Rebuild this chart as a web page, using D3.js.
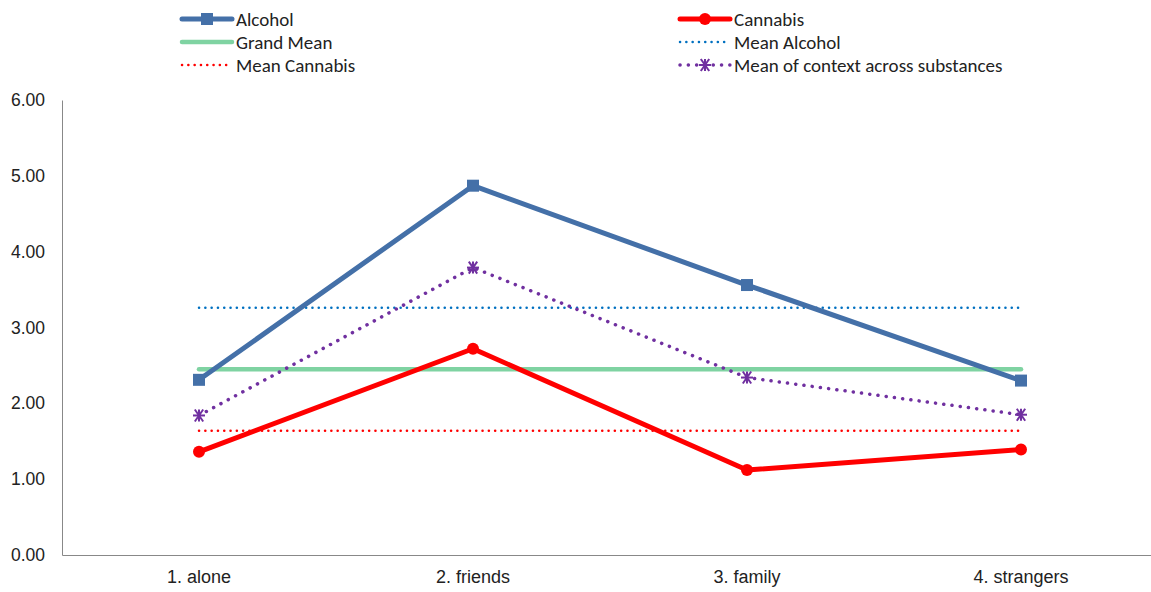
<!DOCTYPE html>
<html>
<head>
<meta charset="utf-8">
<script src="https://cdn.jsdelivr.net/npm/d3@7"></script>
<style>
  html, body { margin: 0; padding: 0; background: #fff; }
  svg { display: block; font-family: Calibri, Carlito, "Open Sans", "Liberation Sans", Arial, sans-serif; }
</style>
</head>
<body>
<svg id="chart" width="1151" height="592"></svg>
<script>
// Context categories
const contexts = ["1. alone", "2. friends", "3. family", "4. strangers"];
// Ratings per context
const alcohol = [2.31, 4.87, 3.56, 2.30];
const cannabis = [1.36, 2.72, 1.12, 1.39];
const contextMean = [1.84, 3.79, 2.34, 1.85];
// Reference levels
const grandMean = 2.45;
const meanAlcohol = 3.26;
const meanCannabis = 1.64;
// Y axis ticks
const yTicks = [0, 1, 2, 3, 4, 5, 6];

const svg = d3.select("#chart");
const plotLeft = 62, plotRight = 1158, plotTop = 100, plotBottom = 555;

const x = d3.scaleBand().domain(contexts).range([plotLeft, plotRight]);
const xc = d => x(d) + x.bandwidth() / 2;
const y = d3.scaleLinear().domain([0, 6]).range([plotBottom, plotTop]);

// Axes
const yAxis = svg.append("g").attr("transform", `translate(${plotLeft},0)`)
  .call(d3.axisLeft(y).tickValues(yTicks).tickFormat(d3.format(".2f")).tickSize(0).tickPadding(17));
yAxis.select(".domain").attr("stroke", "#888").attr("stroke-width", 1);
yAxis.selectAll("text").attr("font-size", 17.5).attr("fill", "#222");

const xAxis = svg.append("g").attr("transform", `translate(0,${plotBottom})`)
  .call(d3.axisBottom(x).tickSize(0).tickPadding(15));
xAxis.select(".domain").attr("stroke", "#888").attr("stroke-width", 1);
xAxis.selectAll("text").attr("font-size", 18).attr("fill", "#222");

const line = d3.line().x((d, i) => xc(contexts[i])).y(d => y(d));
const x0 = xc(contexts[0]), x1 = xc(contexts[contexts.length - 1]);

// Horizontal mean levels
function hline(v, color, width, dash) {
  svg.append("line").attr("x1", x0).attr("x2", x1).attr("y1", y(v)).attr("y2", y(v))
    .attr("stroke", color).attr("stroke-width", width)
    .attr("stroke-dasharray", dash || null).attr("stroke-linecap", "round");
}
hline(grandMean, "#7fd3a2", 4.5);
hline(meanAlcohol, "#0070c0", 2.5, "0.1 6.2");
hline(meanCannabis, "#ff0000", 2.5, "0.1 6.2");

// Context mean across substances
svg.append("path").datum(contextMean).attr("d", line)
  .attr("fill", "none").attr("stroke", "#7030a0").attr("stroke-width", 3.5)
  .attr("stroke-dasharray", "0.1 8.2").attr("stroke-linecap", "round");

function asterisk(g, cx, cy, s, color) {
  const p = g.append("g").attr("transform", `translate(${cx},${cy})`)
    .attr("stroke", color).attr("stroke-width", 2);
  p.append("line").attr("x1", -s * 0.7).attr("y1", -s).attr("x2", s * 0.7).attr("y2", s);
  p.append("line").attr("x1", s * 0.7).attr("y1", -s).attr("x2", -s * 0.7).attr("y2", s);
  p.append("line").attr("x1", 0).attr("y1", -s).attr("x2", 0).attr("y2", s);
  p.append("line").attr("x1", -s).attr("y1", 0).attr("x2", s).attr("y2", 0);
}
contextMean.forEach((v, i) => asterisk(svg, xc(contexts[i]), y(v), 6, "#7030a0"));

// Alcohol
svg.append("path").datum(alcohol).attr("d", line)
  .attr("fill", "none").attr("stroke", "#4470a8").attr("stroke-width", 5).attr("stroke-linejoin", "round");
svg.selectAll(".alc").data(alcohol).enter().append("rect")
  .attr("x", (d, i) => xc(contexts[i]) - 6).attr("y", d => y(d) - 6)
  .attr("width", 12).attr("height", 12).attr("fill", "#4470a8");

// Cannabis
svg.append("path").datum(cannabis).attr("d", line)
  .attr("fill", "none").attr("stroke", "#ff0000").attr("stroke-width", 5).attr("stroke-linejoin", "round");
svg.selectAll(".can").data(cannabis).enter().append("circle")
  .attr("cx", (d, i) => xc(contexts[i])).attr("cy", d => y(d)).attr("r", 6).attr("fill", "#ff0000");

// Legend
const legend = [
  { name: "Alcohol", col: 0, row: 0, color: "#4470a8", w: 5, marker: "square" },
  { name: "Cannabis", col: 1, row: 0, color: "#ff0000", w: 5, marker: "circle" },
  { name: "Grand Mean", col: 0, row: 1, color: "#7fd3a2", w: 4.5 },
  { name: "Mean Alcohol", col: 1, row: 1, color: "#0070c0", w: 2.5, dash: "0.1 6.2" },
  { name: "Mean Cannabis", col: 0, row: 2, color: "#ff0000", w: 2.5, dash: "0.1 6.2" },
  { name: "Mean of context across substances", col: 1, row: 2, color: "#7030a0", w: 3.5, dash: "0.1 8.2", marker: "asterisk" }
];
const colX = [182, 680], rowY = [19, 42, 65];
legend.forEach(l => {
  const g = svg.append("g").attr("transform", `translate(${colX[l.col]},${rowY[l.row]})`);
  g.append("line").attr("x1", 0).attr("x2", 50).attr("y1", 0).attr("y2", 0)
    .attr("stroke", l.color).attr("stroke-width", l.w).attr("stroke-linecap", "round")
    .attr("stroke-dasharray", l.dash || null);
  if (l.marker === "square") g.append("rect").attr("x", 19).attr("y", -6).attr("width", 12).attr("height", 12).attr("fill", l.color);
  if (l.marker === "circle") g.append("circle").attr("cx", 25).attr("cy", 0).attr("r", 6).attr("fill", l.color);
  if (l.marker === "asterisk") asterisk(g, 25, 0, 6, l.color);
  g.append("text").attr("x", 54).attr("y", 0).attr("dy", "0.35em")
    .attr("font-size", 19).attr("fill", "#222").text(l.name);
});
</script>
</body>
</html>
